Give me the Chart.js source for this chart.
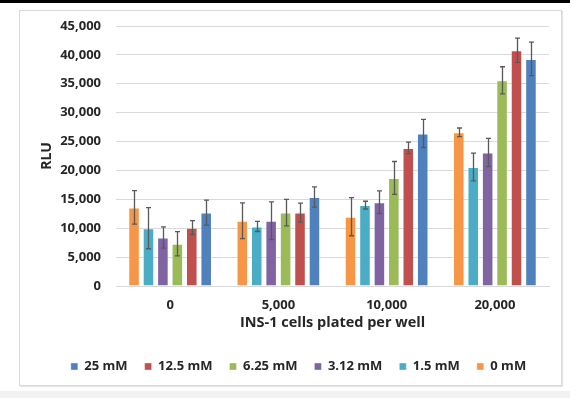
<!DOCTYPE html>
<html>
<head>
<meta charset="utf-8">
<script src="https://cdn.jsdelivr.net/npm/chart.js@4"></script>
<style>
  html, body { margin:0; padding:0; background:#ffffff; width:570px; height:398px; overflow:hidden; position:relative; }
  #topband { position:absolute; left:0; top:0; width:570px; height:3px; background:#000; }
  #botband { position:absolute; left:0; top:391px; width:570px; height:7px; background:#f2f2f2; }
  #frame { position:absolute; left:19px; top:10px; width:541px; height:374px; border:1px solid #d9d9d9; background:#fff; box-shadow:1px 1px 1px #e6e6e6; }
  #c { position:absolute; left:0; top:0; }
</style>
</head>
<body>
<div id="topband"></div>
<div id="botband"></div>
<div id="frame"><canvas id="c" width="541" height="374"></canvas></div>
<script>
const categories = ["0", "5,000", "10,000", "20,000"];
const seriesNames = ["0 mM", "1.5 mM", "3.12 mM", "6.25 mM", "12.5 mM", "25 mM"];
const seriesColors = ["#F79646", "#4BACC6", "#8064A2", "#9BBB59", "#C0504D", "#4F81BD"];
const v0mM   = [13600, 11300, 12000, 26600];
const v1_5mM = [10000, 10300, 14000, 20600];
const v3_12mM= [8400, 11300, 14500, 23100];
const v6_25mM= [7300, 12700, 18700, 35600];
const v12_5mM= [10100, 12700, 23900, 40800];
const v25mM  = [12700, 15400, 26400, 39300];
const e0mM   = [2900, 3100, 3300, 750];
const e1_5mM = [3550, 870, 670, 2400];
const e3_12mM= [1850, 3250, 1950, 2450];
const e6_25mM= [2100, 2300, 2850, 2350];
const e12_5mM= [1200, 1650, 1000, 2100];
const e25mM  = [2150, 1750, 2450, 2900];
const yTicks = [0, 5000, 10000, 15000, 20000, 25000, 30000, 35000, 40000, 45000];

const values = [v0mM, v1_5mM, v3_12mM, v6_25mM, v12_5mM, v25mM];
const errors = [e0mM, e1_5mM, e3_12mM, e6_25mM, e12_5mM, e25mM];

const FONT = "'Open Sans', 'DejaVu Sans', sans-serif";
const TXT = "#262626";

const errorBars = {
  id: 'errorBars',
  afterDatasetsDraw(chart) {
    const ctx = chart.ctx;
    const ys = chart.scales.y;
    ctx.save();
    ctx.strokeStyle = '#595959';
    ctx.lineWidth = 1.3;
    chart.data.datasets.forEach((ds, i) => {
      const meta = chart.getDatasetMeta(i);
      meta.data.forEach((bar, j) => {
        const v = ds.data[j], e = ds.err[j];
        const x = Math.round(bar.x) + 0.5;
        const yt = ys.getPixelForValue(v + e);
        const yb = ys.getPixelForValue(v - e);
        ctx.beginPath();
        ctx.moveTo(x, yt); ctx.lineTo(x, yb);
        ctx.moveTo(x - 2.5, yt); ctx.lineTo(x + 2.5, yt);
        ctx.moveTo(x - 2.5, yb); ctx.lineTo(x + 2.5, yb);
        ctx.stroke();
      });
    });
    ctx.restore();
  }
};

new Chart(document.getElementById('c'), {
  type: 'bar',
  data: {
    labels: categories,
    datasets: seriesNames.map((n, i) => ({
      label: n,
      data: values[i],
      err: errors[i],
      backgroundColor: seriesColors[i],
      borderColor: 'rgba(255,255,255,0.35)',
      borderWidth: 1,
      categoryPercentage: 0.8,
      barPercentage: 0.8
    }))
  },
  options: {
    responsive: false,
    animation: false,
    layout: { padding: { left: 28, right: 12, top: 15, bottom: 2 } },
    plugins: {
      legend: {
        position: 'bottom',
        reverse: true,
        labels: {
          boxWidth: 7, boxHeight: 7, padding: 17,
          color: TXT,
          font: { family: FONT, size: 13, weight: 'bold' }
        }
      },
      tooltip: { enabled: false }
    },
    scales: {
      x: {
        grid: { display: false },
        border: { display: true, color: '#d9d9d9' },
        ticks: { color: TXT, font: { family: FONT, size: 13, weight: 'bold' }, padding: 3 },
        title: { display: true, text: 'INS-1 cells plated per well', color: TXT,
                 font: { family: FONT, size: 14.5, weight: 'bold' }, padding: { top: 2, bottom: 11 } },
        afterFit(s) { s.height = 57; }
      },
      y: {
        min: 0, max: 45000,
        afterBuildTicks(s) { s.ticks = yTicks.map(v => ({ value: v })); },
        grid: { color: '#d9d9d9', drawTicks: false },
        border: { display: false },
        ticks: {
          color: TXT, padding: 15,
          font: { family: FONT, size: 13, weight: 'bold' },
          callback: v => v.toLocaleString('en-US')
        },
        title: { display: true, text: 'RLU', color: TXT,
                 font: { family: FONT, size: 14, weight: 'bold' }, padding: { top: -9, bottom: 0 } },
        afterFit(s) { s.width = 68; s.paddingTop = 0; s.paddingBottom = 0; }
      }
    }
  },
  plugins: [errorBars]
});
</script>
</body>
</html>
